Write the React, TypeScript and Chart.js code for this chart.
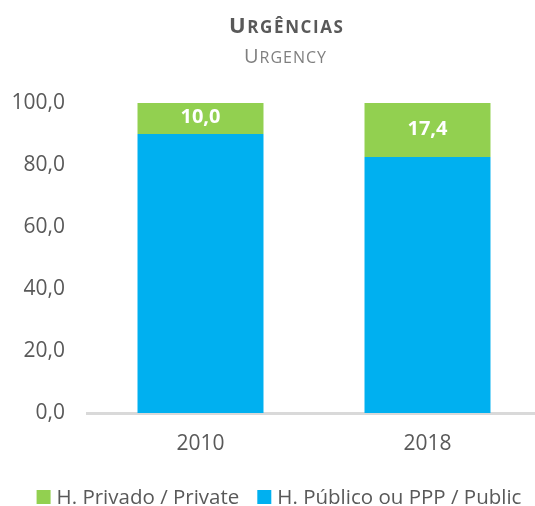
import React, { useEffect, useRef } from "react";
import { Chart, registerables } from "chart.js";

Chart.register(...registerables);

const categories = ["2010", "2018"];
const publicValues = [90.0, 82.6];
const privateValues = [10.0, 17.4];
const seriesNames = ["H. Público ou PPP / Public", "H. Privado / Private"];
const titleText = "Urgências";
const subtitleText = "Urgency";
const FONT = "'Open Sans', sans-serif";
const TEXT = "#595959";

function drawSmallCaps(ctx: CanvasRenderingContext2D, text: string, cx: number, y: number, big: number, small: number, weight: string, color: string, spacing: number) {
  const parts = text.split("").map((ch, i) => ({ ch: ch.toUpperCase(), size: i === 0 || ch === ch.toUpperCase() ? big : small }));
  let total = 0;
  parts.forEach((p) => {
    ctx.font = `${weight} ${p.size}px ${FONT}`;
    total += ctx.measureText(p.ch).width;
  });
  total += spacing * (parts.length - 1);
  let x = cx - total / 2;
  ctx.fillStyle = color;
  ctx.textBaseline = "alphabetic";
  ctx.textAlign = "left";
  parts.forEach((p) => {
    ctx.font = `${weight} ${p.size}px ${FONT}`;
    ctx.fillText(p.ch, x, y);
    x += ctx.measureText(p.ch).width + spacing;
  });
}

const titlePlugin = {
  id: "smallCapsTitle",
  afterDraw(chart: any) {
    const ctx = chart.ctx;
    ctx.save();
    drawSmallCaps(ctx, titleText, 286, 33, 22, 17, "bold", "#595959", 1.6);
    drawSmallCaps(ctx, subtitleText, 285, 63, 20, 16, "normal", "#7f7f7f", 1);
    ctx.restore();
  },
};

const legendPlugin = {
  id: "customLegend",
  afterDraw(chart: any) {
    const ctx = chart.ctx;
    const ds = chart.data.datasets.slice().reverse();
    const box = 14, gap = 6, itemGap = 18;
    ctx.save();
    ctx.font = `20.5px ${FONT}`;
    const widths = ds.map((d: any) => box + gap + ctx.measureText(d.label).width);
    const total = widths.reduce((a: number, b: number) => a + b, 0) + itemGap * (ds.length - 1);
    let x = 279 - total / 2;
    const cy = 497;
    ctx.textBaseline = "middle";
    ctx.textAlign = "left";
    ds.forEach((d: any, i: number) => {
      ctx.fillStyle = d.backgroundColor;
      ctx.fillRect(x, cy - box / 2, box, box);
      ctx.fillStyle = TEXT;
      ctx.fillText(d.label, x + box + gap, cy + 1);
      x += widths[i] + itemGap;
    });
    ctx.restore();
  },
};

const labelPlugin = {
  id: "segLabels",
  afterDatasetsDraw(chart: any) {
    const ctx = chart.ctx;
    const meta = chart.getDatasetMeta(1);
    ctx.save();
    ctx.font = `bold 20px ${FONT}`;
    ctx.fillStyle = "#ffffff";
    ctx.textAlign = "center";
    ctx.textBaseline = "middle";
    meta.data.forEach((bar: any, i: number) => {
      const { x, y, base } = bar.getProps(["x", "y", "base"], true);
      ctx.fillText(privateValues[i].toFixed(1).replace(".", ","), x, (y + base) / 2 - 1);
    });
    ctx.restore();
  },
};

export default function App() {
  const ref = useRef<HTMLCanvasElement>(null);
  useEffect(() => {
    document.body.style.margin = "0";
    const chart = new Chart(ref.current!, {
      type: "bar",
      data: {
        labels: categories,
        datasets: [
          { label: seriesNames[0], data: publicValues, backgroundColor: "#00B0F0" },
          { label: seriesNames[1], data: privateValues, backgroundColor: "#92D050" },
        ],
      },
      options: {
        animation: false,
        responsive: false,
        layout: { padding: { top: 103, right: 0, left: 10, bottom: 0 } },
        datasets: { bar: { categoryPercentage: 1, barPercentage: 0.555 } },
        scales: {
          x: {
            stacked: true,
            grid: { display: false, drawTicks: false },
            border: { color: "#D9D9D9", width: 3 },
            ticks: { color: TEXT, font: { family: FONT, size: 21 }, padding: 18 },
            afterFit: (s: any) => { s.height = 93; },
          },
          y: {
            stacked: true,
            min: 0,
            max: 100,
            grid: { display: false, drawTicks: false },
            border: { display: false },
            afterFit: (s: any) => { s.width = 77; },
            ticks: {
              stepSize: 20,
              color: TEXT,
              padding: 22,
              font: { family: FONT, size: 21 },
              callback: (v: any) => Number(v).toFixed(1).replace(".", ","),
            },
          },
        },
        plugins: {
          title: { display: false },
          tooltip: { enabled: false },
          legend: { display: false },
        },
      },
      plugins: [titlePlugin, labelPlugin, legendPlugin],
    });
    return () => chart.destroy();
  }, []);
  return (
    <div style={{ width: 535, height: 506, overflow: "hidden" }}>
      <canvas ref={ref} width={541} height={506} style={{ display: "block" }} />
    </div>
  );
}
